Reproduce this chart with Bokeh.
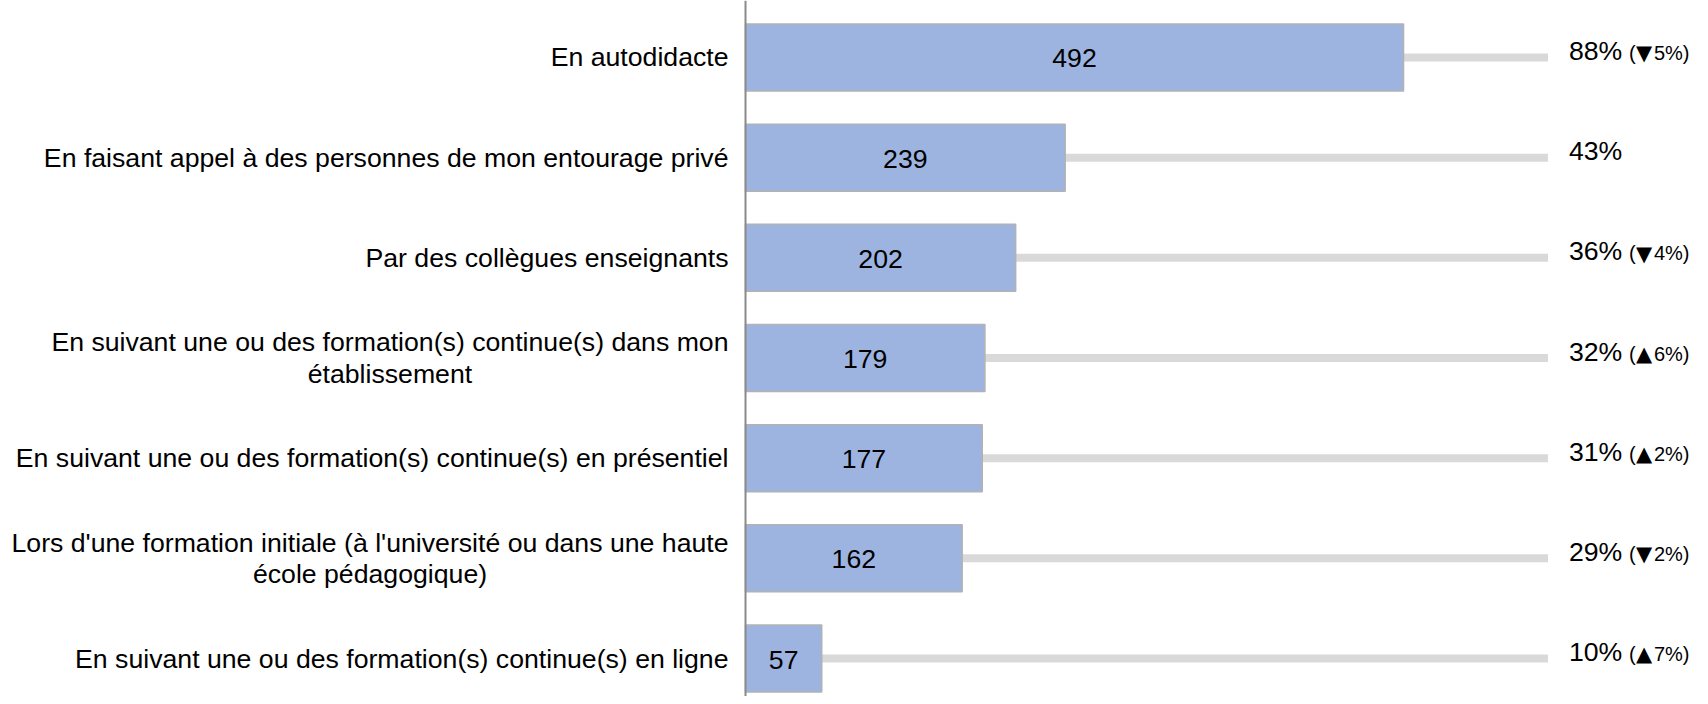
from bokeh.plotting import figure
from bokeh.models import ColumnDataSource, Range1d, Span
from bokeh.core.properties import value
from bokeh.embed import file_html
from bokeh.resources import INLINE

# ---- data ----
categories = [
    "En autodidacte",
    "En faisant appel à des personnes de mon entourage privé",
    "Par des collègues enseignants",
    "En suivant une ou des formation(s) continue(s) dans mon\nétablissement",
    "En suivant une ou des formation(s) continue(s) en présentiel",
    "Lors d'une formation initiale (à l'université ou dans une haute\nécole pédagogique)",
    "En suivant une ou des formation(s) continue(s) en ligne",
]
counts = [492, 239, 202, 179, 177, 162, 57]
percents = [88, 43, 36, 32, 31, 29, 10]
deltas = [-5, None, -4, 6, 2, -2, 7]
track_max = 600

# ---- derived columns ----
ypos = list(range(len(categories)))
pct_text = [f"{p}%" for p in percents]
open_text = ["" if d is None else "(" for d in deltas]
arrow_text = ["" if d is None else ("▲" if d > 0 else "▼") for d in deltas]
delta_text = ["" if d is None else f"{abs(d)}%)" for d in deltas]
mid = [c / 2 for c in counts]

src = ColumnDataSource(dict(
    y=ypos, cat=categories, count=counts, mid=mid,
    count_text=[str(c) for c in counts],
    track=[track_max] * len(categories),
    pct=pct_text, popen=open_text, arrow=arrow_text, delta=delta_text,
))

FONT = value("Liberation Sans")
BIG = "26.67px"

p = figure(
    width=1700, height=696,
    x_range=Range1d(-557.05, 714.05),
    y_range=Range1d(6.379, -0.569),
    output_backend="svg", toolbar_location=None,
    x_axis_location=None, y_axis_location=None,
    min_border=0, outline_line_color=None,
    background_fill_color="white", border_fill_color="white",
)
p.xgrid.visible = False
p.ygrid.visible = False

# background tracks
p.hbar(y="y", left=0, right="track", height=0.08, source=src,
       fill_color="#d9d9d9", line_color=None)

# bars
p.hbar(y="y", left=0, right="count", height=0.669, source=src,
       fill_color="#9eb4e0", line_color="#b2b2b2", line_width=1.5)

# axis line
p.add_layout(Span(location=0, dimension="height", line_color="#8a8a8a", line_width=2))

# count labels in bars
p.text(x="mid", y="y", text="count_text", source=src,
       text_font=FONT, text_font_size=BIG, text_color="black",
       text_align="center", text_baseline="middle", y_offset=1)

# percent labels
p.text(x="track", y="y", text="pct", source=src,
       text_font=FONT, text_font_size=BIG, text_color="black",
       text_align="left", text_baseline="middle", x_offset=21, y_offset=-6.5)
p.text(x="track", y="y", text="popen", source=src,
       text_font=FONT, text_font_size="20px", text_color="black",
       text_align="left", text_baseline="middle", x_offset=81, y_offset=-4.4)
p.text(x="track", y="y", text="arrow", source=src,
       text_font=value("DejaVu Sans"), text_font_size="21px", text_color="black",
       text_align="left", text_baseline="middle", x_offset=88, y_offset=-4.3)
p.text(x="track", y="y", text="delta", source=src,
       text_font=FONT, text_font_size="20px", text_color="black",
       text_align="left", text_baseline="middle", x_offset=106, y_offset=-4.4)

# category labels
p.text(x=0, y="y", text="cat", source=src,
       text_font=FONT, text_font_size=BIG, text_color="black",
       text_align="center", anchor="center_right", x_offset=-17,
       text_line_height=1.04)

open("out.html", "w").write(file_html(p, INLINE))
